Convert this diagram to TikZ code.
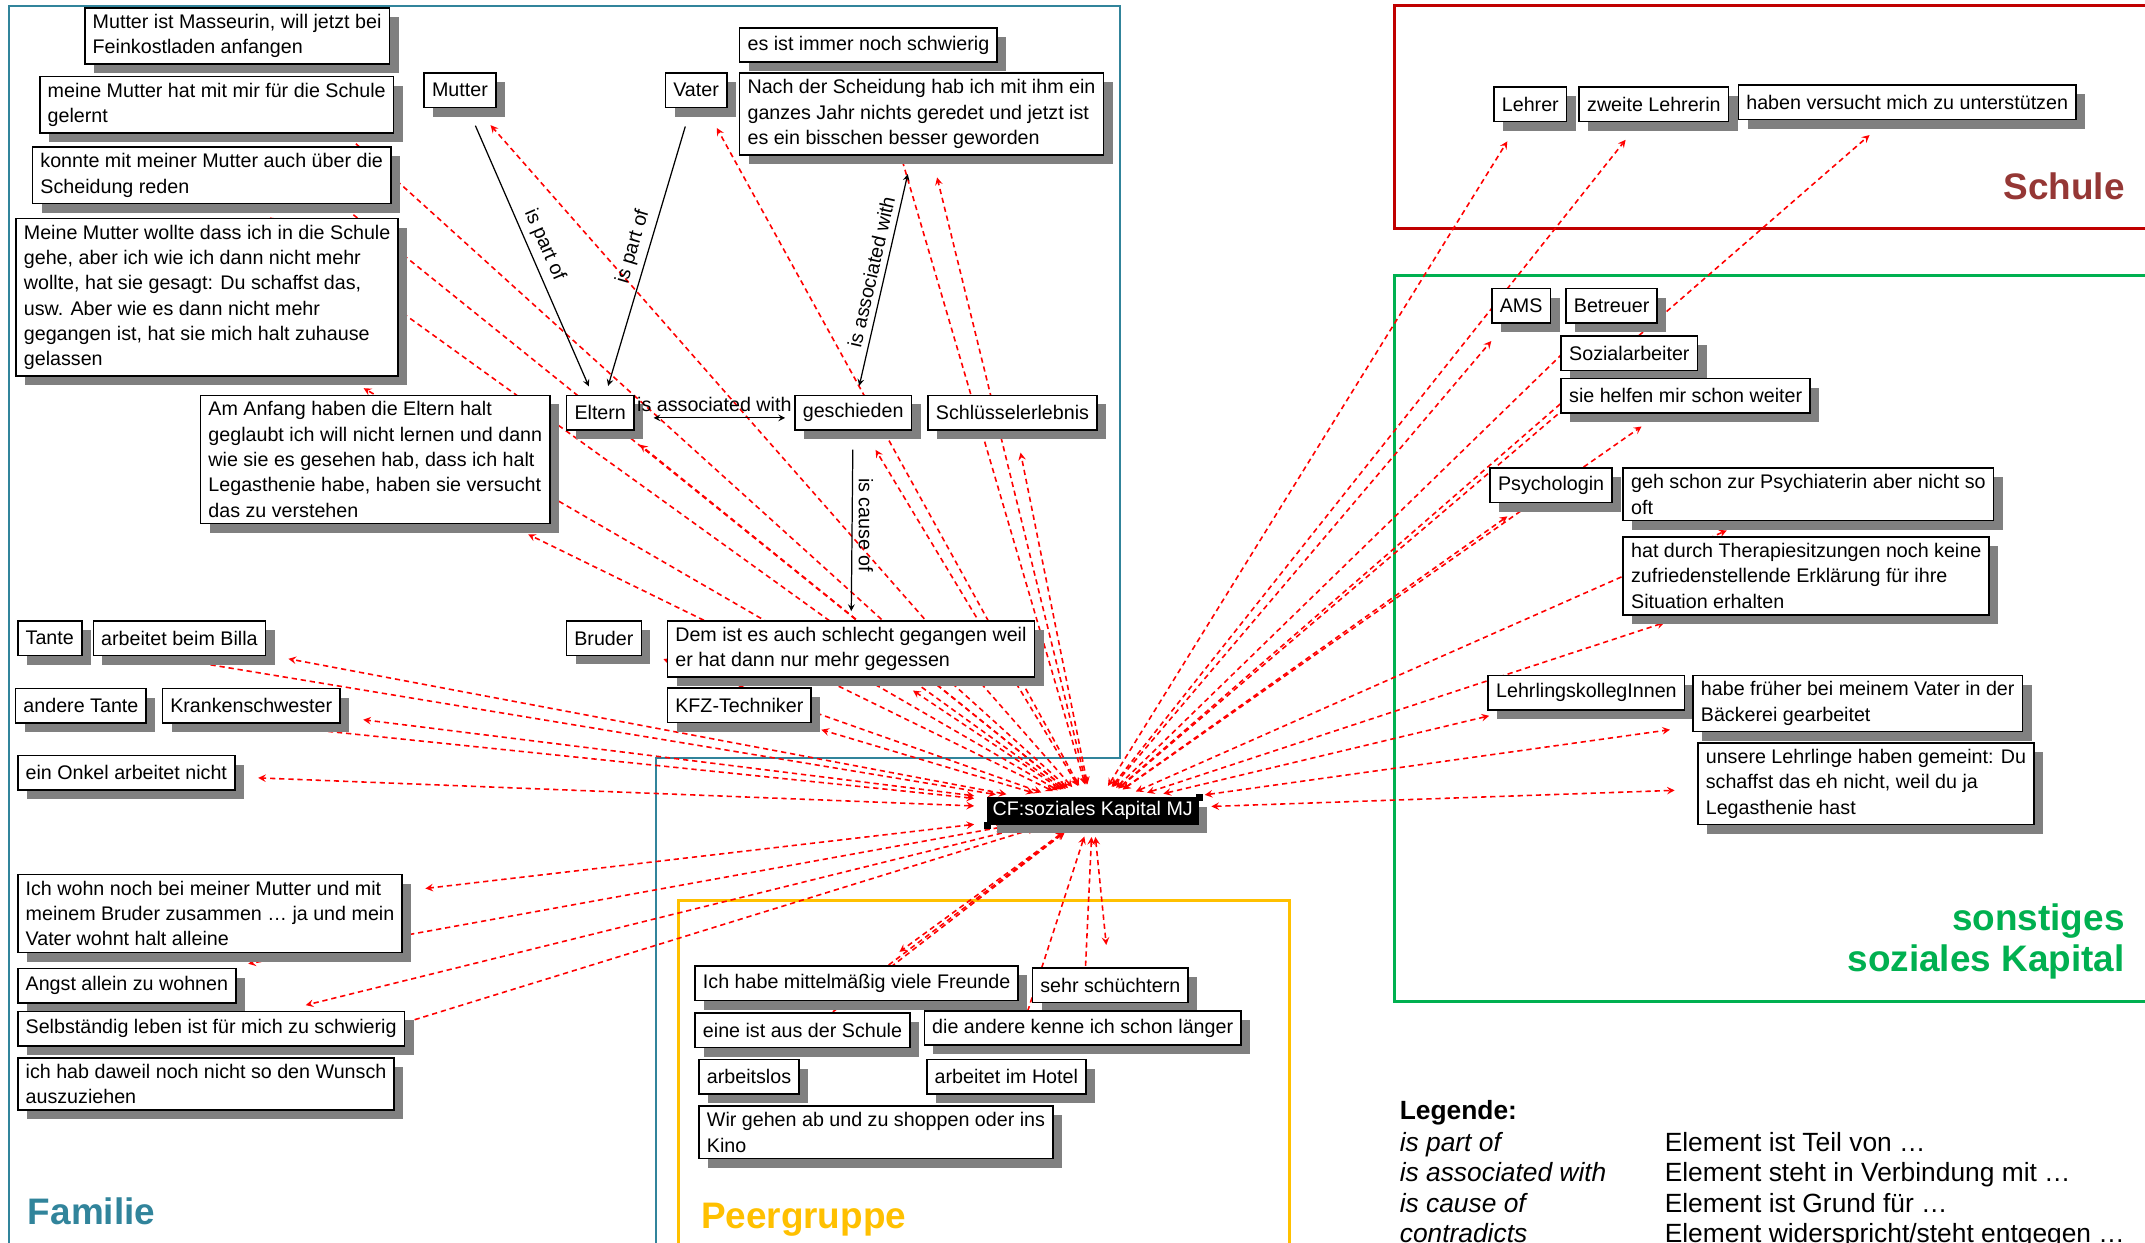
\documentclass[tikz,border=0pt]{standalone}
\usepackage{fontspec}
\setmainfont{Liberation Sans}
\usetikzlibrary{positioning,shadows,backgrounds}

\definecolor{famcol}{HTML}{31849B}
\definecolor{peercol}{HTML}{FFC000}
\definecolor{schulframe}{HTML}{C00000}
\definecolor{schultext}{HTML}{953735}
\definecolor{sonstcol}{HTML}{00B050}

\newcommand{\memofont}{\fontsize{11.2pt}{14.4pt}\selectfont}
\newcommand{\legendfont}{\fontsize{15pt}{17.5pt}\selectfont}
\newcommand{\regionfont}{\fontsize{21pt}{23.3pt}\selectfont\bfseries}

\begin{document}
\begin{tikzpicture}[
    x=0.02736cm, y=-0.02736cm,
    memo/.style={
      rectangle,
      draw=black,
      line width=0.9pt,
      fill=white,
      align=left,
      anchor=north west,
      inner xsep=4.5pt,
      inner ysep=3.6pt,
      minimum height=19.6pt,
      font=\memofont,
      drop shadow={shadow xshift=5.2pt, shadow yshift=-5.2pt, fill=black!50, opacity=1}
    },
    code/.style={
      memo,
      fill=black,
      text=white,
      inner xsep=3pt,
      inner ysep=2pt,
      minimum height=15pt
    },
    cflink/.style={
      <->,
      >=stealth,
      red,
      dash pattern=on 3pt off 2.2pt,
      line width=0.9pt,
      shorten <=0.25cm,
      shorten >=0.45cm
    },
    relation/.style={
      line width=0.7pt,
      >=stealth,
      font=\memofont,
      shorten <=0.38cm,
      shorten >=0.18cm
    },
    region/.style={
      line width=1.6pt
    },
    regiontitle/.style={
      font=\regionfont,
      inner sep=0pt
    },
    legend/.style={
      font=\legendfont,
      inner sep=0pt,
      anchor=base west
    }
  ]

    \useasboundingbox (0,0) rectangle (1568,908.6);

    % Familie: Mutter
    \node (masseurin) [memo] at (61.4,5.2) {Mutter ist Masseurin, will jetzt bei\\Feinkostladen anfangen};
    \node (gelernt) [memo] at (28.5,55.3) {meine Mutter hat mit mir für die Schule\\gelernt};
    \node (scheidung) [memo] at (23.2,107) {konnte mit meiner Mutter auch über die\\Scheidung reden};
    \node (zuhause) [memo] at (11.1,159.2) {Meine Mutter wollte dass ich in die Schule\\gehe, aber ich wie ich dann nicht mehr\\wollte, hat sie gesagt: Du schaffst das,\\usw. Aber wie es dann nicht mehr\\gegangen ist, hat sie mich halt zuhause\\gelassen};
    \node (mutter) [memo] at (309.5,52.8) {Mutter};

    % Familie: Vater and the divorce
    \node (vater) [memo] at (485.8,52.8) {Vater};
    \node (schwierig) [memo] at (540.1,19.7) {es ist immer noch schwierig};
    \node (nachscheidung) [memo] at (540.1,52.9) {Nach der Scheidung hab ich mit ihm ein\\ganzes Jahr nichts geredet und jetzt ist\\es ein bisschen besser geworden};

    % Familie: Eltern row
    \node (anfang) [memo] at (146,288.4) {Am Anfang haben die Eltern halt\\geglaubt ich will nicht lernen und dann\\wie sie es gesehen hab, dass ich halt\\Legasthenie habe, haben sie versucht\\das zu verstehen};
    \node (eltern) [memo] at (413.6,288.4) {Eltern};
    \node (geschieden) [memo] at (580.5,288.4) {geschieden};
    \node (schluessel) [memo, right=0.3cm of geschieden] {Schlüsselerlebnis};

    % Familie: relatives
    \node (tante) [memo] at (12.4,453.4) {Tante};
    \node (billa) [memo, right=0.2cm of tante] {arbeitet beim Billa};
    \node (tante2) [memo] at (10.8,502.8) {andere Tante};
    \node (kranken) [memo, right=0.29cm of tante2] {Krankenschwester};
    \node (onkel) [memo] at (12.4,551.7) {ein Onkel arbeitet nicht};
    \node (bruder) [memo] at (413.5,453.3) {Bruder};
    \node (schlecht) [memo] at (487.3,453.3) {Dem ist es auch schlecht gegangen weil\\er hat dann nur mehr gegessen};
    \node (kfz) [memo] at (487.3,502.4) {KFZ-Techniker};

    % Familie: living at home
    \node (wohn) [memo] at (12.4,638.8) {Ich wohn noch bei meiner Mutter und mit\\meinem Bruder zusammen … ja und mein\\Vater wohnt halt alleine};
    \node (angst) [memo] at (12.4,707.4) {Angst allein zu wohnen};
    \node (selbst) [memo] at (12.4,738.7) {Selbständig leben ist für mich zu schwierig};
    \node (wunsch) [memo] at (12.4,772.7) {ich hab daweil noch nicht so den Wunsch\\auszuziehen};

    % Code family in the middle
    \node (cf) [code] at (721.2,582.3) {CF:soziales Kapital MJ};
    \fill (cf.north east) ++(-2,-2) rectangle ++(5,5);
    \fill (cf.south west) ++(-2,-2) rectangle ++(5,5);

    % Peergruppe
    \node (freunde) [memo] at (507.5,705.5) {Ich habe mittelmäßig viele Freunde};
    \node (schuechtern) [memo] at (754.1,707.1) {sehr schüchtern};
    \node (ausschule) [memo] at (507.5,739.9) {eine ist aus der Schule};
    \node (laenger) [memo] at (675.1,738.3) {die andere kenne ich schon länger};
    \node (arbeitslos) [memo] at (510.4,774) {arbeitslos};
    \node (hotel) [memo] at (676.9,774) {arbeitet im Hotel};
    \node (shoppen) [memo] at (510.4,808) {Wir gehen ab und zu shoppen oder ins\\Kino};

    % Schule
    \node (lehrer) [memo] at (1091.5,63) {Lehrer};
    \node (lehrerin) [memo, right=0.22cm of lehrer] {zweite Lehrerin};
    \node (unterstuetzen) [memo] at (1270.2,61.6) {haben versucht mich zu unterstützen};

    % sonstiges soziales Kapital
    \node (ams) [memo] at (1090,210.4) {AMS};
    \node (betreuer) [memo, right=0.28cm of ams] {Betreuer};
    \node (sozial) [memo] at (1140.7,245) {Sozialarbeiter};
    \node (helfen) [memo] at (1140.7,276) {sie helfen mir schon weiter};
    \node (psychologin) [memo] at (1088.7,341.6) {Psychologin};
    \node (psychiaterin) [memo] at (1186,341.6) {geh schon zur Psychiaterin aber nicht so\\oft};
    \node (therapie) [memo] at (1186,392) {hat durch Therapiesitzungen noch keine\\zufriedenstellende Erklärung für ihre\\Situation erhalten};
    \node (lehrlinge) [memo] at (1087.3,493.1) {LehrlingskollegInnen};
    \node (baeckerei) [memo] at (1237,493.1) {habe früher bei meinem Vater in der\\Bäckerei gearbeitet};
    \node (gemeint) [memo] at (1240.6,542.5) {unsere Lehrlinge haben gemeint: Du\\schaffst das eh nicht, weil du ja\\Legasthenie hast};

    % Region titles
    \node (familie) [regiontitle, text=famcol, anchor=base west] at (20.2,895) {Familie};
    \node (peergruppe) [regiontitle, text=peercol, anchor=base west] at (512.2,898) {Peergruppe};
    \node (schule) [regiontitle, text=schultext, anchor=base east] at (1553.3,146) {Schule};
    \node (sonstiges) [regiontitle, text=sonstcol, align=right, anchor=north east] at (1553.3,660.6) {sonstiges\\soziales Kapital};

    % Relations between codes
    \draw [relation, ->] (mutter) -- node[sloped, above] {is part of} (eltern);
    \draw [relation, ->] (vater) -- node[sloped, above] {is part of} (eltern);
    \draw [relation, <->, transform canvas={yshift=-3pt}] (eltern) -- node[above] {is associated with} (geschieden);
    \draw [relation, <->] (nachscheidung) -- node[sloped, above] {is associated with} (geschieden);
    \draw [relation, ->] (geschieden) -- node[rotate=-90, anchor=south] {is cause of} (schlecht);

    % Legend
    \node (legende) [legend, font=\legendfont\bfseries] at (1023,818.5) {Legende:};
    \node (key1) [legend, font=\legendfont\itshape] at (1023,841.5) {is part of};
    \node (key2) [legend, font=\legendfont\itshape] at (1023,864) {is associated with};
    \node (key3) [legend, font=\legendfont\itshape] at (1023,886) {is cause of};
    \node (key4) [legend, font=\legendfont\itshape] at (1023,908) {contradicts};
    \node (mean1) [legend] at (1216.7,841.5) {Element ist Teil von …};
    \node (mean2) [legend] at (1216.7,864) {Element steht in Verbindung mit …};
    \node (mean3) [legend] at (1216.7,886) {Element ist Grund für …};
    \node (mean4) [legend] at (1216.7,908) {Element widerspricht/steht entgegen …};

    \begin{scope}[on background layer]
      % Region frames
      \draw [region, famcol, line width=1.2pt] (479.7,908.6) -- (479.7,553.8) -- (818.8,553.8) -- (818.8,4.5) -- (6.7,4.5) -- (6.7,908.6);
      \draw [region, peercol] (495.9,908.6) -- (495.9,658.5) -- (942.6,658.5) -- (942.6,908.6);
      \draw [region, schulframe] (1568,4.3) -- (1019.5,4.3) -- (1019.5,167) -- (1568,167);
      \draw [region, sonstcol] (1568,201.4) -- (1019.5,201.4) -- (1019.5,731.9) -- (1568,731.9);

      % Links of the code family, Familie
      \draw [cflink] (cf) -- (masseurin);
      \draw [cflink] (cf) -- (gelernt);
      \draw [cflink] (cf) -- (scheidung);
      \draw [cflink] (cf) -- (zuhause);
      \draw [cflink] (cf) -- (mutter);
      \draw [cflink] (cf) -- (vater);
      \draw [cflink] (cf) -- (schwierig);
      \draw [cflink] (cf) -- (nachscheidung);
      \draw [cflink] (cf) -- (anfang);
      \draw [cflink] (cf) -- (eltern);
      \draw [cflink] (cf) -- (geschieden);
      \draw [cflink] (cf) -- (schluessel);
      \draw [cflink] (cf) -- (tante);
      \draw [cflink] (cf) -- (billa);
      \draw [cflink] (cf) -- (tante2);
      \draw [cflink] (cf) -- (kranken);
      \draw [cflink] (cf) -- (onkel);
      \draw [cflink] (cf) -- (bruder);
      \draw [cflink] (cf) -- (schlecht);
      \draw [cflink] (cf) -- (kfz);
      \draw [cflink] (cf) -- (wohn);
      \draw [cflink] (cf) -- (angst);
      \draw [cflink] (cf) -- (selbst);
      \draw [cflink] (cf) -- (wunsch);

      % Links of the code family, Peergruppe
      \draw [cflink] (cf) -- (freunde);
      \draw [cflink] (cf) -- (schuechtern);
      \draw [cflink] (cf) -- (ausschule);
      \draw [cflink] (cf) -- (laenger);
      \draw [cflink] (cf) -- (arbeitslos);
      \draw [cflink] (cf) -- (hotel);

      % Links of the code family, Schule and sonstiges
      \draw [cflink] (cf) -- (lehrer);
      \draw [cflink] (cf) -- (lehrerin);
      \draw [cflink] (cf) -- (unterstuetzen);
      \draw [cflink] (cf) -- (ams);
      \draw [cflink] (cf) -- (betreuer);
      \draw [cflink] (cf) -- (sozial);
      \draw [cflink] (cf) -- (helfen);
      \draw [cflink] (cf) -- (psychologin);
      \draw [cflink] (cf) -- (psychiaterin);
      \draw [cflink] (cf) -- (therapie);
      \draw [cflink] (cf) -- (lehrlinge);
      \draw [cflink] (cf) -- (baeckerei);
      \draw [cflink] (cf) -- (gemeint);
    \end{scope}

  \end{tikzpicture}
\end{document}
